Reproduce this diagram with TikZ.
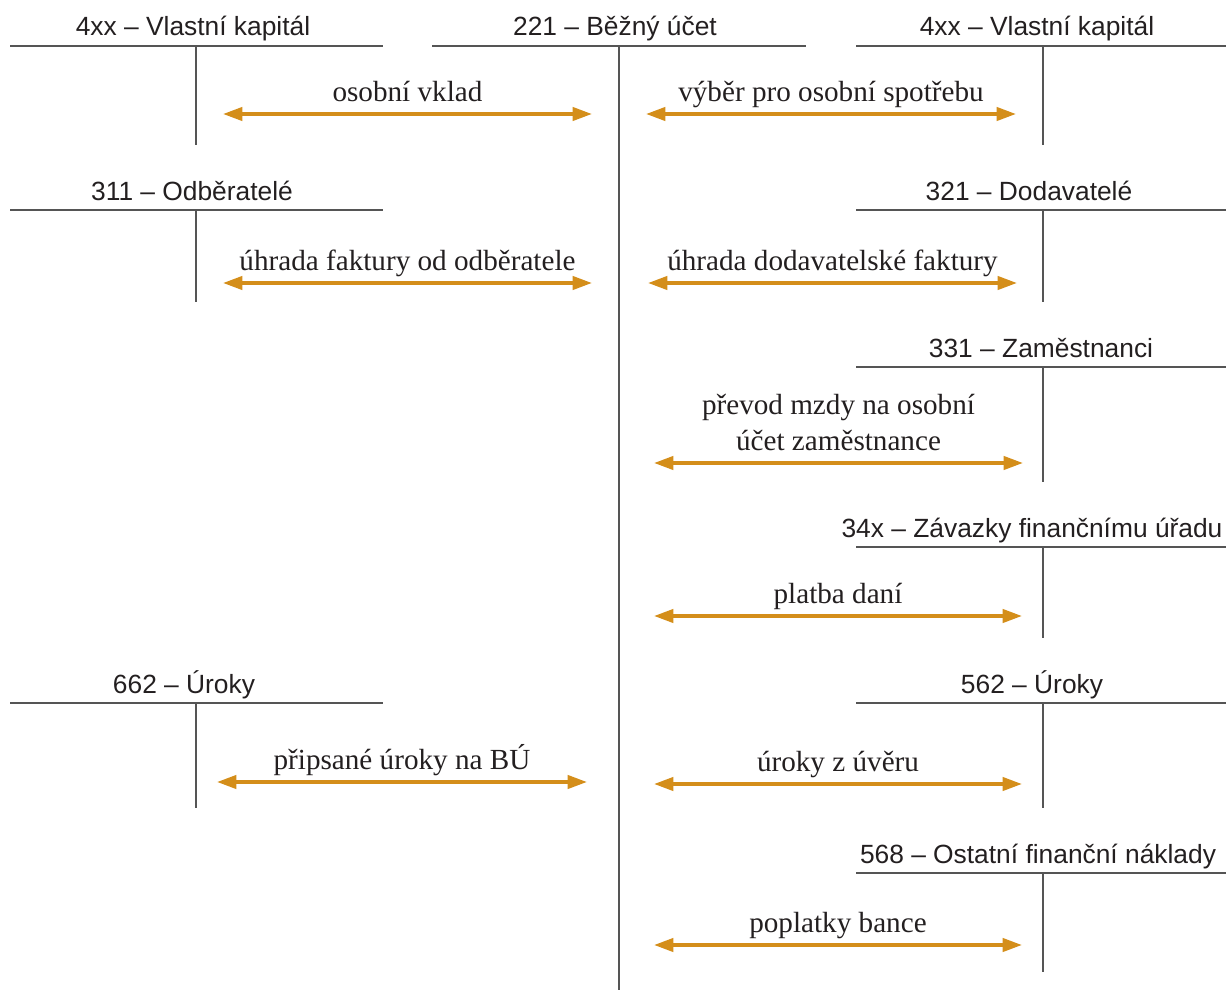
\documentclass[tikz,border=0pt]{standalone}
\usepackage{fontspec}
\setmainfont{Liberation Serif}
\newfontfamily\acctfont{Liberation Sans}
\usetikzlibrary{arrows.meta}
\definecolor{tgray}{HTML}{555555}
\definecolor{flowc}{HTML}{D48E1A}
\definecolor{ink}{HTML}{231F20}
\begin{document}
\begin{tikzpicture}[x=0.02cm,y=-0.02cm,
  tline/.style={draw=tgray,line width=1.1pt},
  acct/.style={anchor=base,inner sep=0pt,text=ink,font=\acctfont\fontsize{15}{18}\selectfont},
  flow/.style={draw=flowc,line width=2pt,{Triangle[length=11pt,width=7.5pt]}-{Triangle[length=11pt,width=7.5pt]}},
  lbl/.style={anchor=base,inner sep=0pt,yshift=7pt,text=ink,font=\fontsize{16.6}{20.4}\selectfont}]
\useasboundingbox (0,0) rectangle (1228,990);
% the bank account in the middle
\node[acct] (bu) at (615,36) {221 – Běžný účet};
\draw[tline] (432,46) -- (806,46) (619,46) -- (619,990);
% accounts on the left
\node[acct] (vkl) at (193,36) {4xx – Vlastní kapitál};
\draw[tline] (10,46) -- (383,46) (196,46) -- (196,145);
\node[acct] (odb) at (192,200) {311 – Odběratelé};
\draw[tline] (10,210) -- (383,210) (196,210) -- (196,302);
\node[acct] (uv) at (184,693) {662 – Úroky};
\draw[tline] (10,703) -- (383,703) (196,703) -- (196,808);
% accounts on the right
\node[acct] (vkr) at (1037,36) {4xx – Vlastní kapitál};
\draw[tline] (856,46) -- (1226,46) (1043,46) -- (1043,145);
\node[acct] (dod) at (1029,200) {321 – Dodavatelé};
\draw[tline] (856,210) -- (1226,210) (1043,210) -- (1043,302);
\node[acct] (zam) at (1041,357) {331 – Zaměstnanci};
\draw[tline] (856,367) -- (1226,367) (1043,367) -- (1043,482);
\node[acct] (fu) at (1032,537) {34x – Závazky finančnímu úřadu};
\draw[tline] (856,547) -- (1226,547) (1043,547) -- (1043,638);
\node[acct] (un) at (1032,693) {562 – Úroky};
\draw[tline] (856,703) -- (1226,703) (1043,703) -- (1043,808);
\node[acct] (ofn) at (1038,863) {568 – Ostatní finanční náklady};
\draw[tline] (856,873) -- (1226,873) (1043,873) -- (1043,972);
% movements
\coordinate (f1a) at (223,114); \coordinate (f1b) at (592,114);
\draw[flow] (f1a) -- (f1b) node[midway,lbl] {osobní vklad};
\coordinate (f2a) at (646,114); \coordinate (f2b) at (1016,114);
\draw[flow] (f2a) -- (f2b) node[midway,lbl] {výběr pro osobní spotřebu};
\coordinate (f3a) at (223,283); \coordinate (f3b) at (592,283);
\draw[flow] (f3a) -- (f3b) node[midway,lbl] {úhrada faktury od odběratele};
\coordinate (f4a) at (648,283); \coordinate (f4b) at (1017,283);
\draw[flow] (f4a) -- (f4b) node[midway,lbl] {úhrada dodavatelské faktury};
\coordinate (f5a) at (654,463); \coordinate (f5b) at (1023,463);
\draw[flow] (f5a) -- (f5b) node[midway,lbl,align=center] {převod mzdy na osobní\\účet zaměstnance};
\coordinate (f6a) at (654,616); \coordinate (f6b) at (1022,616);
\draw[flow] (f6a) -- (f6b) node[midway,lbl] {platba daní};
\coordinate (f7a) at (217,782); \coordinate (f7b) at (587,782);
\draw[flow] (f7a) -- (f7b) node[midway,lbl] {připsané úroky na BÚ};
\coordinate (f8a) at (654,784); \coordinate (f8b) at (1022,784);
\draw[flow] (f8a) -- (f8b) node[midway,lbl] {úroky z úvěru};
\coordinate (f9a) at (654,945); \coordinate (f9b) at (1022,945);
\draw[flow] (f9a) -- (f9b) node[midway,lbl] {poplatky bance};
\end{tikzpicture}
\end{document}
